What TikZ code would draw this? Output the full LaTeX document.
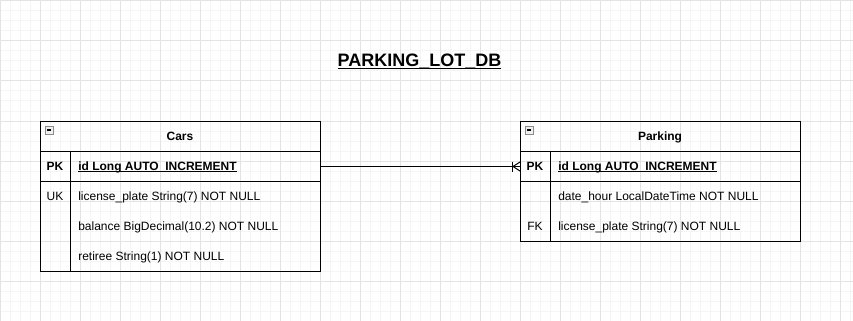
\documentclass[tikz,border=0pt]{standalone}
\usepackage{fontspec}
\setmainfont{Liberation Sans}
\newsavebox\ulinebox
\newsavebox\usbox
% underline laid exactly over the underscore glyph, so underscores merge with it
\newcommand\ulined[1]{%
  \sbox\usbox{\_}\sbox\ulinebox{#1}%
  \rlap{\rule[-\dp\usbox]{\wd\ulinebox}{0.085em}}\usebox\ulinebox}
\begin{document}
\begin{tikzpicture}[x=0.75pt,y=-0.75pt,
  font=\fontsize{9}{11}\selectfont,
  minorgrid/.style={draw=black!4,line width=0.75pt},
  majorgrid/.style={draw=black!11,line width=0.75pt},
  rowbox/.style={draw,line width=0.75pt,anchor=north west,inner sep=0pt,
    minimum width=210pt,minimum height=22.5pt},
  headtxt/.style={font=\fontsize{9}{11}\selectfont\bfseries,anchor=base,inner sep=0pt},
  keytxt/.style={anchor=base,inner sep=0pt},
  fieldtxt/.style={anchor=base west,inner sep=0pt},
  edge/.style={line width=0.75pt},
  collapse/.style={draw=black!45,fill=black!6,line width=0.5pt}]
\useasboundingbox (0,0) rectangle (853,321);
\fill[white] (0,0) rectangle (853,321);
% background grid
\foreach \x in {10,20,...,850} \draw[minorgrid] (\x,0) -- (\x,321);
\foreach \y in {11,21,...,321} \draw[minorgrid] (0,\y) -- (853,\y);
\foreach \x in {0,40,...,840} \draw[majorgrid] (\x,0) -- (\x,321);
\foreach \y in {1,41,...,321} \draw[majorgrid] (0,\y) -- (853,\y);

% title
\node[font=\fontsize{13.5}{16}\selectfont\bfseries,anchor=base,inner sep=0pt] (title)
  at (419.5,67) {\ulined{PARKING\_LOT\_DB}};

% table Cars
\node[rowbox] (carsHead) at (40,121) {};
\node[rowbox] (carsPK) at (40,151) {};
\node[rowbox,minimum height=67.5pt] (carsBody) at (40,181) {};
\draw[edge] ([xshift=22.5pt]carsPK.north west) -- ([xshift=22.5pt]carsBody.south west);
\draw[collapse] (45,126) rectangle (53,134);
\draw[line width=0.9pt] (46.8,130) -- (51.2,130);
\node[headtxt] (carsTitle) at (180,140.3) {Cars};
\node[keytxt,font=\fontsize{9}{11}\selectfont\bfseries] (carsK1) at (55,170.3) {PK};
\node[fieldtxt,font=\fontsize{9}{11}\selectfont\bfseries] (carsF1) at (78,170.3) {\ulined{id Long AUTO\_INCREMENT}};
\node[keytxt] (carsK2) at (55,200.3) {UK};
\node[fieldtxt] (carsF2) at (78,200.3) {license\_plate String(7) NOT NULL};
\node[fieldtxt] (carsF3) at (78,230.3) {balance BigDecimal(10.2) NOT NULL};
\node[fieldtxt] (carsF4) at (78,260.3) {retiree String(1) NOT NULL};

% table Parking
\node[rowbox] (parkHead) at (520,121) {};
\node[rowbox] (parkPK) at (520,151) {};
\node[rowbox,minimum height=45pt] (parkBody) at (520,181) {};
\draw[edge] ([xshift=22.5pt]parkPK.north west) -- ([xshift=22.5pt]parkBody.south west);
\draw[collapse] (525,126) rectangle (533,134);
\draw[line width=0.9pt] (526.8,130) -- (531.2,130);
\node[headtxt] (parkTitle) at (660,140.3) {Parking};
\node[keytxt,font=\fontsize{9}{11}\selectfont\bfseries] (parkK1) at (535,170.3) {PK};
\node[fieldtxt,font=\fontsize{9}{11}\selectfont\bfseries] (parkF1) at (558,170.3) {\ulined{id Long AUTO\_INCREMENT}};
\node[fieldtxt] (parkF2) at (558,200.3) {date\_hour LocalDateTime NOT NULL};
\node[keytxt] (parkK3) at (535,230.3) {FK};
\node[fieldtxt] (parkF3) at (558,230.3) {license\_plate String(7) NOT NULL};

% relationship: one Cars row to many Parking rows
\draw[edge] (carsPK.east) -- (parkPK.west);
\draw[edge] (parkPK.west) ++(-7.5,-5) -- ++(0,10);
\draw[edge] (parkPK.west) ++(0,-4.5) -- ++(-7,4.5) -- ++(7,4.5);
\end{tikzpicture}
\end{document}
